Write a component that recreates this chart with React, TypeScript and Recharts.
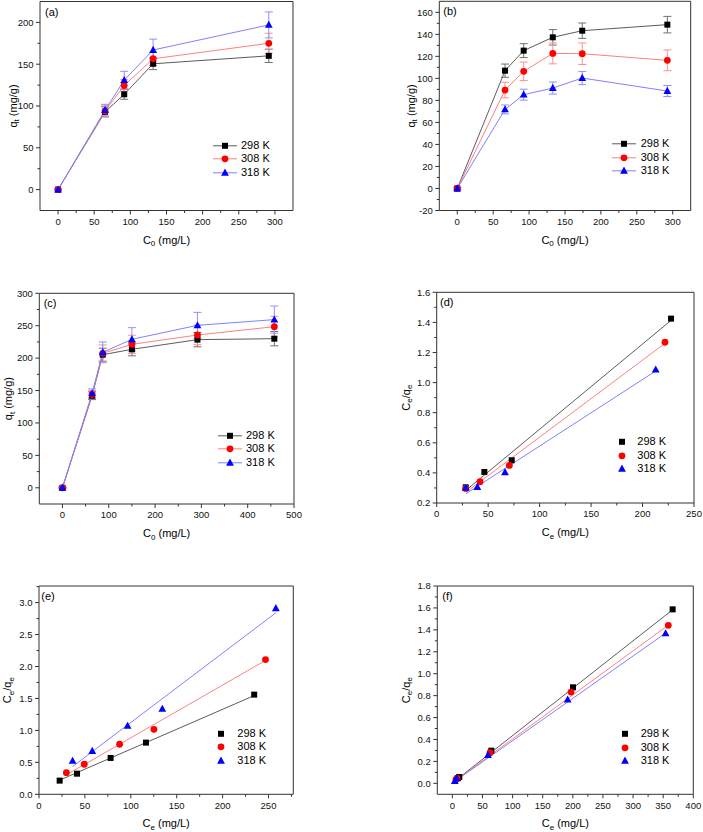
import React from 'react';
import { ComposedChart, Line, Scatter, XAxis, YAxis, ErrorBar, ReferenceArea, Legend, Label } from 'recharts';

const PAGE_W = 703;
const PAGE_H = 832;
const FONT = '"Liberation Sans", Arial, Helvetica, sans-serif';
const AXIS = '#333333';

const SERIES_NAMES = ['298 K', '308 K', '318 K'];
const MARKER_COLORS = ['#000000', '#ff0000', '#0000ff'];
const LINE_COLORS = ['#5c5c5c', '#ff8080', '#8080ff'];
const ERROR_COLORS = ['#707070', '#ff9090', '#9090ff'];
const SHAPES = ['square', 'circle', 'triangle'];

// ---- (a) ----
const aC0 = [0, 65, 91.5, 131.5, 291.5];
const aQt298 = [0, 93, 114, 150.5, 160];
const aQt308 = [0, 94, 124.5, 156.5, 175];
const aQt318 = [0, 95, 131, 167, 197];
const aErr298 = [1, 6, 6, 7, 8];
const aErr308 = [1, 7, 7, 8, 12];
const aErr318 = [1, 7, 10.5, 13, 15.5];
const aXTicks = [0, 25, 50, 75, 100, 125, 150, 175, 200, 225, 250, 275, 300];
const aYTicks = [0, 25, 50, 75, 100, 125, 150, 175, 200];

// ---- (b) ----
const bC0 = [0, 66.5, 92.5, 133, 174, 292.5];
const bQt298 = [0, 107, 125.2, 137.3, 143.3, 148.8];
const bQt308 = [0, 89.4, 106.4, 122.7, 122.4, 116.4];
const bQt318 = [0, 71.8, 85.2, 91.2, 100.3, 88.5];
const bErr298 = [1, 6, 6.3, 7, 7, 7.5];
const bErr308 = [1, 7, 8.4, 9.5, 9.8, 9.4];
const bErr318 = [1, 4, 5, 5.5, 6, 5];
const bXTicks = [0, 25, 50, 75, 100, 125, 150, 175, 200, 225, 250, 275, 300];
const bYTicks = [-20, -10, 0, 10, 20, 30, 40, 50, 60, 70, 80, 90, 100, 110, 120, 130, 140, 150, 160];

// ---- (c) ----
const cC0 = [0, 64, 87, 150, 291.5, 457.5];
const cQt298 = [0, 142, 205.3, 213.6, 228.5, 230];
const cQt308 = [0, 144, 207.4, 221.3, 235.7, 248.5];
const cQt318 = [0, 145.6, 209, 229, 250.6, 259.4];
const cErr298 = [1, 6, 10, 10, 11, 11];
const cErr308 = [1, 6, 13, 14, 15, 16];
const cErr318 = [1, 7, 16, 18, 20, 21];
const cXTicks = [0, 50, 100, 150, 200, 250, 300, 350, 400, 450, 500];
const cYTicks = [0, 25, 50, 75, 100, 125, 150, 175, 200, 225, 250, 275, 300];

// ---- (d) ----
const dPts298 = [[28.2, 0.304], [46.3, 0.406], [72.9, 0.484], [227.7, 1.425]];
const dPts308 = [[28.2, 0.297], [42.1, 0.342], [70.6, 0.45], [221.8, 1.268]];
const dPts318 = [[28.2, 0.3], [39.5, 0.306], [66.4, 0.404], [212.8, 1.086]];
const dFit298 = [[28.5, 0.285], [228, 1.415]];
const dFit308 = [[28.5, 0.272], [222, 1.262]];
const dFit318 = [[28.5, 0.262], [213, 1.078]];
const dXTicks = [0, 25, 50, 75, 100, 125, 150, 175, 200, 225, 250];
const dYTicks = [0.2, 0.3, 0.4, 0.5, 0.6, 0.7, 0.8, 0.9, 1.0, 1.1, 1.2, 1.3, 1.4, 1.5, 1.6];

// ---- (e) ----
const ePts298 = [[22.5, 0.214], [41.4, 0.323], [78, 0.569], [116.5, 0.809], [234.4, 1.56]];
const ePts308 = [[29.8, 0.339], [49.3, 0.47], [87.8, 0.783], [125.2, 1.017], [246.7, 2.108]];
const ePts318 = [[36.6, 0.522], [58, 0.678], [96.5, 1.07], [134.3, 1.336], [258, 2.911]];
const eFit298 = [[22.5, 0.222], [234.4, 1.545]];
const eFit308 = [[29.8, 0.305], [246.7, 2.095]];
const eFit318 = [[36.6, 0.435], [258, 2.84]];
const eXTicks = [0, 25, 50, 75, 100, 125, 150, 175, 200, 225, 250, 275];
const eYTicks = [0, 0.25, 0.5, 0.75, 1.0, 1.25, 1.5, 1.75, 2.0, 2.25, 2.5, 2.75, 3.0, 3.25];

// ---- (f) ----
const fPts298 = [[9, 0.048], [11.5, 0.058], [64.7, 0.298], [200.3, 0.876], [365.7, 1.587]];
const fPts308 = [[6, 0.035], [8, 0.045], [62.5, 0.28], [197, 0.832], [358.5, 1.441]];
const fPts318 = [[4, 0.02], [7, 0.045], [59.2, 0.258], [191.4, 0.763], [354, 1.368]];
const fFit298 = [[2, 0.012], [366, 1.585]];
const fFit308 = [[2, 0.012], [359, 1.445]];
const fFit318 = [[2, 0.01], [354, 1.37]];
const fXTicks = [0, 25, 50, 75, 100, 125, 150, 175, 200, 225, 250, 275, 300, 325, 350, 375, 400];
const fYTicks = [0, 0.1, 0.2, 0.3, 0.4, 0.5, 0.6, 0.7, 0.8, 0.9, 1.0, 1.1, 1.2, 1.3, 1.4, 1.5, 1.6, 1.7, 1.8];

const toRows = (xs: number[], ys: number[][], es: number[][]) =>
  xs.map((x, i) => ({ x, s0: ys[0][i], s1: ys[1][i], s2: ys[2][i], e0: es[0][i], e1: es[1][i], e2: es[2][i] }));
const toObjs = (pts: number[][]) => pts.map(([x, y]) => ({ x, y }));

const isMajor = (v: number, step: number) => Math.abs(v / step - Math.round(v / step)) < 1e-6;
const fmt = (v: number, dec: number) => (dec > 0 ? v.toFixed(dec) : String(Math.round(v)));

function Mark({ cx, cy, shape, color }: any) {
  if (cx == null || cy == null || isNaN(cx) || isNaN(cy)) return null;
  if (shape === 'square') return <rect x={cx - 3} y={cy - 3} width={6} height={6} fill={color} />;
  if (shape === 'circle') return <circle cx={cx} cy={cy} r={3.4} fill={color} />;
  return <polygon points={`${cx},${cy - 4.2} ${cx + 3.9},${cy + 2.9} ${cx - 3.9},${cy + 2.9}`} fill={color} />;
}

const xTick = (step: number, dec: number) => (p: any) => {
  const v = p.payload.value;
  const major = isMajor(v, step);
  return (
    <g key={`xt-${v}`}>
      <line x1={p.x} x2={p.x} y1={p.y} y2={p.y + (major ? 4 : 2.5)} stroke={AXIS} strokeWidth={1} />
      {major && (
        <text x={p.x} y={p.y + 7.5} dy="0.71em" textAnchor="middle" fontSize={9.5} fontFamily={FONT} fill="#111">
          {fmt(v, dec)}
        </text>
      )}
    </g>
  );
};

const yTick = (step: number, dec: number) => (p: any) => {
  const v = p.payload.value;
  const major = isMajor(v, step);
  return (
    <g key={`yt-${v}`}>
      <line x1={p.x - (major ? 4 : 2.5)} x2={p.x} y1={p.y} y2={p.y} stroke={AXIS} strokeWidth={1} />
      {major && (
        <text x={p.x - 6.5} y={p.y} dy="0.35em" textAnchor="end" fontSize={9.5} fontFamily={FONT} fill="#111">
          {fmt(v, dec)}
        </text>
      )}
    </g>
  );
};

function XTitle({ x, y, sub }: any) {
  return (
    <text x={x} y={y} textAnchor="middle" fontFamily={FONT} fontSize={11} fill="#000">
      C<tspan fontSize={8} dy={2.5}>{sub}</tspan>
      <tspan dy={-2.5}> (mg/L)</tspan>
    </text>
  );
}

function YTitle({ x, y, kind }: any) {
  return (
    <text x={x} y={y} dy="0.35em" transform={`rotate(-90 ${x} ${y})`} textAnchor="middle" fontFamily={FONT} fontSize={11} fill="#000">
      {kind === 'q' ? (
        <>
          q<tspan fontSize={8} dy={2.5}>t</tspan>
          <tspan dy={-2.5}> (mg/g)</tspan>
        </>
      ) : (
        <>
          C<tspan fontSize={8} dy={2.5}>e</tspan>
          <tspan dy={-2.5}>/q</tspan>
          <tspan fontSize={8} dy={2.5}>e</tspan>
        </>
      )}
    </text>
  );
}

function LegendBox({ withLine, gap }: any) {
  const rowH = 13.6;
  const iconW = withLine ? 24 : 10;
  return (
    <div style={{ fontFamily: FONT, fontSize: 11, color: '#000' }}>
      {SERIES_NAMES.map((name, i) => (
        <div key={name} style={{ display: 'flex', alignItems: 'center', height: rowH, whiteSpace: 'nowrap' }}>
          <svg width={iconW} height={rowH} style={{ display: 'block', flex: 'none' }}>
            {withLine && <line x1={0} x2={iconW} y1={rowH / 2} y2={rowH / 2} stroke={LINE_COLORS[i]} strokeWidth={1} />}
            <Mark cx={iconW / 2} cy={rowH / 2} shape={SHAPES[i]} color={MARKER_COLORS[i]} />
          </svg>
          <span style={{ marginLeft: gap, lineHeight: `${rowH}px` }}>{name}</span>
        </div>
      ))}
    </div>
  );
}

type Cfg = {
  box: number[];
  xDomain: number[];
  yDomain: number[];
  xTicks: number[];
  yTicks: number[];
  xStep: number;
  yStep: number;
  xDec: number;
  yDec: number;
  tag: string;
  tagDx: number;
  xSub: string;
  yKind: string;
  yTitleGap: number;
  legend: { left: number; top: number; withLine: boolean; gap: number };
};

function Panel({ cfg, children }: { cfg: Cfg; children: any }) {
  const [L, T, R, B] = cfg.box;
  return (
    <div style={{ position: 'absolute', left: 0, top: 0 }}>
      <ComposedChart
        width={PAGE_W}
        height={PAGE_H}
        margin={{ left: L - 1, top: T, right: PAGE_W - R, bottom: PAGE_H - B - 1 }}
      >
        <XAxis
          type="number"
          dataKey="x"
          domain={cfg.xDomain}
          allowDataOverflow
          ticks={cfg.xTicks}
          interval={0}
          height={1}
          tickSize={0}
          tickMargin={0}
          axisLine={false}
          tickLine={false}
          tick={xTick(cfg.xStep, cfg.xDec)}
        >
          <Label content={() => <XTitle x={(L + R) / 2} y={B + 33} sub={cfg.xSub} />} />
        </XAxis>
        <YAxis
          type="number"
          dataKey="y"
          domain={cfg.yDomain}
          allowDataOverflow
          ticks={cfg.yTicks}
          interval={0}
          width={1}
          tickSize={0}
          tickMargin={0}
          axisLine={false}
          tickLine={false}
          tick={yTick(cfg.yStep, cfg.yDec)}
        >
          <Label content={() => <YTitle x={L - cfg.yTitleGap} y={(T + B) / 2} kind={cfg.yKind} />} />
        </YAxis>
        <ReferenceArea
          x1={cfg.xDomain[0]}
          x2={cfg.xDomain[1]}
          y1={cfg.yDomain[0]}
          y2={cfg.yDomain[1]}
          fill="none"
          fillOpacity={0}
          stroke={AXIS}
          strokeWidth={1}
          ifOverflow="visible"
          label={
            <Label
              content={() => (
                <text x={L + cfg.tagDx} y={T + 14} fontFamily={FONT} fontSize={11} fill="#000">
                  {cfg.tag}
                </text>
              )}
            />
          }
        />
        {children}
        <Legend
          layout="vertical"
          align="center"
          verticalAlign="middle"
          wrapperStyle={{ left: cfg.legend.left, top: cfg.legend.top, width: 'auto', height: 'auto' }}
          content={() => <LegendBox withLine={cfg.legend.withLine} gap={cfg.legend.gap} />}
        />
      </ComposedChart>
    </div>
  );
}

function kineticLines(rows: any[]) {
  return [0, 1, 2].map((i) => (
    <Line
      key={`l${i}`}
      data={rows}
      dataKey={`s${i}`}
      type="linear"
      stroke={LINE_COLORS[i]}
      strokeWidth={1}
      isAnimationActive={false}
      legendType="none"
      dot={(p: any) => <Mark key={`m${i}-${p.index}`} cx={p.cx} cy={p.cy} shape={SHAPES[i]} color={MARKER_COLORS[i]} />}
      activeDot={false}
    >
      <ErrorBar dataKey={`e${i}`} width={4} stroke={ERROR_COLORS[i]} strokeWidth={1} direction="y" isAnimationActive={false} />
    </Line>
  ));
}

function fitSeries(fits: number[][][], pts: number[][][]) {
  const out: any[] = [];
  [0, 1, 2].forEach((i) => {
    out.push(
      <Line
        key={`f${i}`}
        data={toObjs(fits[i])}
        dataKey="y"
        type="linear"
        stroke={LINE_COLORS[i]}
        strokeWidth={1}
        dot={false}
        activeDot={false}
        isAnimationActive={false}
        legendType="none"
      />
    );
  });
  [0, 1, 2].forEach((i) => {
    out.push(
      <Scatter
        key={`p${i}`}
        data={toObjs(pts[i])}
        dataKey="y"
        isAnimationActive={false}
        legendType="none"
        shape={(p: any) => <Mark cx={p.cx} cy={p.cy} shape={SHAPES[i]} color={MARKER_COLORS[i]} />}
      />
    );
  });
  return out;
}

const cfgA: Cfg = {
  box: [40, 1.5, 293, 210.5], xDomain: [-25, 325], yDomain: [-25, 225],
  xTicks: aXTicks, yTicks: aYTicks, xStep: 50, yStep: 50, xDec: 0, yDec: 0,
  tag: '(a)', tagDx: 5, xSub: '0', yKind: 'q', yTitleGap: 27,
  legend: { left: 213, top: 138.7, withLine: true, gap: 4 },
};
const cfgB: Cfg = {
  box: [439.3, 1.3, 690.7, 210.5], xDomain: [-25, 325], yDomain: [-20, 170],
  xTicks: bXTicks, yTicks: bYTicks, xStep: 50, yStep: 20, xDec: 0, yDec: 0,
  tag: '(b)', tagDx: 4, xSub: '0', yKind: 'q', yTitleGap: 28.5,
  legend: { left: 612.3, top: 137.3, withLine: true, gap: 4.4 },
};
const cfgC: Cfg = {
  box: [39.3, 293.3, 294, 504], xDomain: [-50, 500], yDomain: [-25, 300],
  xTicks: cXTicks, yTicks: cYTicks, xStep: 100, yStep: 50, xDec: 0, yDec: 0,
  tag: '(c)', tagDx: 4.4, xSub: '0', yKind: 'q', yTitleGap: 31,
  legend: { left: 218.3, top: 428.6, withLine: true, gap: 3.7 },
};
const cfgD: Cfg = {
  box: [436.7, 292.3, 694, 503], xDomain: [0, 250], yDomain: [0.2, 1.6],
  xTicks: dXTicks, yTicks: dYTicks, xStep: 50, yStep: 0.2, xDec: 0, yDec: 1,
  tag: '(d)', tagDx: 3.3, xSub: 'e', yKind: 'c', yTitleGap: 31,
  legend: { left: 616.7, top: 435, withLine: false, gap: 10.6 },
};
const cfgE: Cfg = {
  box: [39, 586, 293.3, 794.3], xDomain: [0, 277], yDomain: [0, 3.26],
  xTicks: eXTicks, yTicks: eYTicks, xStep: 50, yStep: 0.5, xDec: 0, yDec: 1,
  tag: '(e)', tagDx: 2.3, xSub: 'e', yKind: 'c', yTitleGap: 31.8,
  legend: { left: 215.7, top: 726.5, withLine: false, gap: 11.6 },
};
const cfgF: Cfg = {
  box: [437.3, 586, 693.3, 794.3], xDomain: [-25, 400], yDomain: [-0.1, 1.8],
  xTicks: fXTicks, yTicks: fYTicks, xStep: 50, yStep: 0.2, xDec: 0, yDec: 1,
  tag: '(f)', tagDx: 5, xSub: 'e', yKind: 'c', yTitleGap: 31.5,
  legend: { left: 620.3, top: 727.2, withLine: false, gap: 10.4 },
};

export default function App() {
  const rowsA = toRows(aC0, [aQt298, aQt308, aQt318], [aErr298, aErr308, aErr318]);
  const rowsB = toRows(bC0, [bQt298, bQt308, bQt318], [bErr298, bErr308, bErr318]);
  const rowsC = toRows(cC0, [cQt298, cQt308, cQt318], [cErr298, cErr308, cErr318]);
  return (
    <div style={{ position: 'absolute', left: 0, top: 0, width: PAGE_W, height: PAGE_H, background: '#fff', overflow: 'hidden' }}>
      <Panel cfg={cfgA}>{kineticLines(rowsA)}</Panel>
      <Panel cfg={cfgB}>{kineticLines(rowsB)}</Panel>
      <Panel cfg={cfgC}>{kineticLines(rowsC)}</Panel>
      <Panel cfg={cfgD}>{fitSeries([dFit298, dFit308, dFit318], [dPts298, dPts308, dPts318])}</Panel>
      <Panel cfg={cfgE}>{fitSeries([eFit298, eFit308, eFit318], [ePts298, ePts308, ePts318])}</Panel>
      <Panel cfg={cfgF}>{fitSeries([fFit298, fFit308, fFit318], [fPts298, fPts308, fPts318])}</Panel>
    </div>
  );
}
